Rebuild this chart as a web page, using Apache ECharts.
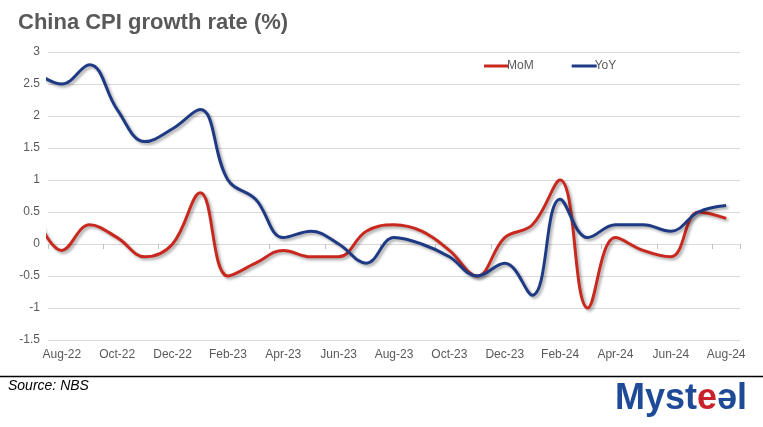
<!DOCTYPE html>
<html>
<head>
<meta charset="utf-8">
<script src="https://cdn.jsdelivr.net/npm/echarts@6/dist/echarts.min.js"></script>
<style>
html,body{margin:0;padding:0;background:#fff;}
#chart{width:763px;height:427px;}
</style>
</head>
<body>
<div id="chart"></div>
<script>
// Months (first entry Jul-22 is only a lead-in point, clipped at the left edge)
const months = ['Jul-22','Aug-22','Sep-22','Oct-22','Nov-22','Dec-22','Jan-23','Feb-23','Mar-23','Apr-23','May-23','Jun-23','Jul-23','Aug-23','Sep-23','Oct-23','Nov-23','Dec-23','Jan-24','Feb-24','Mar-24','Apr-24','May-24','Jun-24','Jul-24','Aug-24'];
const momValues = [0.5,-0.1,0.3,0.1,-0.2,0.0,0.8,-0.5,-0.3,-0.1,-0.2,-0.2,0.2,0.3,0.2,-0.1,-0.5,0.1,0.3,1.0,-1.0,0.1,-0.1,-0.2,0.5,0.4];
const yoyValues = [2.7,2.5,2.8,2.1,1.6,1.8,2.1,1.0,0.7,0.1,0.2,0.0,-0.3,0.1,0.0,-0.2,-0.5,-0.3,-0.8,0.7,0.1,0.3,0.3,0.2,0.5,0.6];
const yTicks = [-1.5,-1,-0.5,0,0.5,1,1.5,2,2.5,3];

const categories = months.slice(1);
const toPts = vals => vals.map((v,i)=>[i-1, v]);

const RED = '#C8281E';
const BLUE = '#1F3A84';
const TXT = '#595959';

const chart = echarts.init(document.getElementById('chart'), null, {renderer:'canvas'});
const lineStyle = c => ({color:c, width:3, shadowColor:'rgba(0,0,0,0.35)', shadowBlur:3, shadowOffsetX:2, shadowOffsetY:2});

chart.setOption({
  animation:false,
  backgroundColor:'#fff',
  grid:{left:48, right:23, top:52, bottom:87, containLabel:false},
  legend:{
    left:479, top:55, itemWidth:25, itemHeight:3, itemGap:38, icon:'rect',
    textStyle:{color:TXT, fontSize:12, fontFamily:'Liberation Sans, Arial, sans-serif', padding:[0,0,0,-7]},
    data:['MoM','YoY']
  },
  xAxis:[
    { // labels at the bottom
      type:'category', data:categories, boundaryGap:true, position:'bottom',
      axisLine:{show:false, onZero:false}, axisTick:{show:false}, splitLine:{show:false},
      axisLabel:{interval:1, color:TXT, fontSize:12, margin:9, fontFamily:'Liberation Sans, Arial, sans-serif'}
    },
    { // axis line & ticks at zero
      type:'category', data:categories, boundaryGap:true, position:'bottom',
      axisLine:{show:true, onZero:true, lineStyle:{color:'#D9D9D9', width:1}},
      axisTick:{show:true, interval:1, length:5, lineStyle:{color:'#BFBFBF'}},
      axisLabel:{show:false}, splitLine:{show:false}
    },
    { // numeric axis for series
      type:'value', min:-0.5, max:24.5, show:false
    }
  ],
  yAxis:{
    type:'value', min:-1.5, max:3, interval:0.5,
    axisLine:{show:false}, axisTick:{show:false},
    splitLine:{lineStyle:{color:'#D9D9D9', width:1}},
    axisLabel:{color:TXT, fontSize:12, margin:8, fontFamily:'Liberation Sans, Arial, sans-serif',
      formatter: v => yTicks.includes(v) ? String(v) : ''}
  },
  series:[
    {name:'MoM', type:'line', xAxisIndex:2, data:toPts(momValues), smooth:0.4, symbol:'none', clip:true,
     color:RED, lineStyle:lineStyle(RED), z:3},
    {name:'YoY', type:'line', xAxisIndex:2, data:toPts(yoyValues), smooth:0.4, symbol:'none', clip:true,
     color:BLUE, lineStyle:lineStyle(BLUE), z:4}
  ],
  graphic:[
    {type:'text', left:18, top:12, style:{text:'China CPI growth rate (%)', fill:TXT,
      font:'bold 22px "Liberation Sans", Arial, sans-serif'}},
    {type:'line', shape:{x1:0, y1:376.5, x2:763, y2:376.5}, style:{stroke:'#000', lineWidth:1.5}},
    {type:'text', left:8, top:379, style:{text:'Source: NBS', fill:'#000',
      font:'italic 14px "Liberation Sans", Arial, sans-serif'}},
    {type:'text', left:615, top:381, style:{
      text:'{b|Myst}{r|e}{b|ə}{b|l}',
      rich:{
        b:{fill:'#1E4A98', font:'bold 36px "Liberation Sans", Arial, sans-serif'},
        r:{fill:'#C8232B', font:'bold 36px "Liberation Sans", Arial, sans-serif'}
      }}}
  ]
});
</script>
</body>
</html>
